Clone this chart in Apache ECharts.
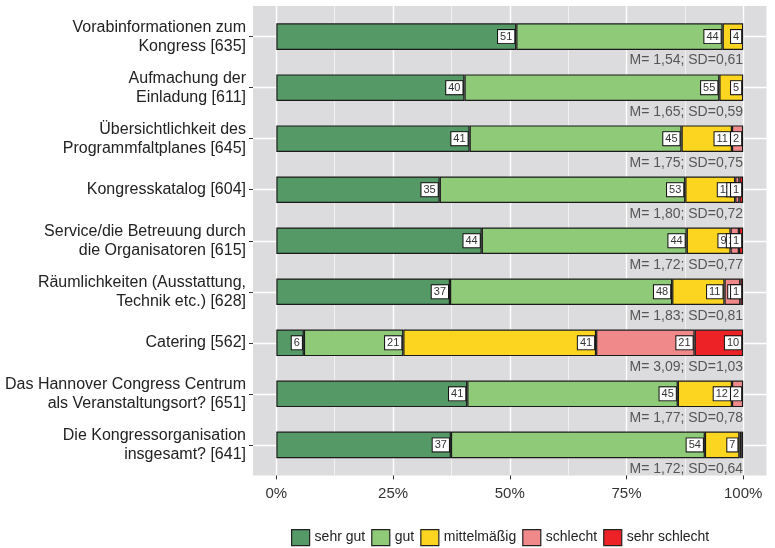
<!DOCTYPE html>
<html>
<head>
<meta charset="utf-8">
<script src="https://cdn.jsdelivr.net/npm/echarts@6/dist/echarts.min.js"></script>
<style>html,body{margin:0;padding:0;background:#fff}#c{width:775px;height:548px}</style>
</head>
<body>
<div id="c"></div>
<script>
var categories = [
  "Vorabinformationen zum\nKongress [635]",
  "Aufmachung der\nEinladung [611]",
  "Übersichtlichkeit des\nProgrammfaltplanes [645]",
  "Kongresskatalog [604]",
  "Service/die Betreuung durch\ndie Organisatoren [615]",
  "Räumlichkeiten (Ausstattung,\nTechnik etc.) [628]",
  "Catering [562]",
  "Das Hannover Congress Centrum\nals Veranstaltungsort? [651]",
  "Die Kongressorganisation\ninsgesamt? [641]"
];
var levels = ["sehr gut", "gut", "mittelmäßig", "schlecht", "sehr schlecht"];
var sehrGut     = [51.4, 40.3, 41.4, 35.0, 44.0, 37.2,  5.9, 40.9, 37.4];
var gut         = [44.2, 54.6, 45.4, 52.6, 43.9, 47.6, 21.3, 45.1, 54.4];
var mittel      = [ 4.4,  5.1, 10.8, 10.7,  9.4, 11.2, 41.3, 11.6,  7.4];
var schlecht    = [ 0,    0,    2.4,  0.9,  1.8,  3.4, 21.1,  2.4,  0.4];
var sehrSchlecht= [ 0,    0,    0,    0.8,  0.9,  0.6, 10.4,  0,    0.4];
var msd = [
  "M= 1,54; SD=0,61", "M= 1,65; SD=0,59", "M= 1,75; SD=0,75",
  "M= 1,80; SD=0,72", "M= 1,72; SD=0,77", "M= 1,83; SD=0,81",
  "M= 3,09; SD=1,03", "M= 1,77; SD=0,78", "M= 1,72; SD=0,64"
];
var xTicks = [0, 25, 50, 75, 100];
var xMinor = [12.5, 37.5, 62.5, 87.5];
var colors = ["#559966", "#8fca78", "#fcd520", "#f08a8a", "#ec2226"];

var FONT = "Liberation Sans";
var seriesValues = [sehrGut, gut, mittel, schlecht, sehrSchlecht];

var bg = {
  type: 'line', xAxisIndex: 1, yAxisIndex: 1, data: [], silent: true, z: 0,
  markLine: {
    symbol: 'none', silent: true, animation: false, z: 0,
    label: { show: false },
    data: xMinor.map(function (v) { return { xAxis: v, lineStyle: { color: '#ffffff', width: 0.6, type: 'solid' } }; })
      .concat(xTicks.map(function (v) { return { xAxis: v, lineStyle: { color: '#ffffff', width: 1.4, type: 'solid' } }; }))
      .concat(categories.map(function (c, i) { return { yAxis: i, lineStyle: { color: '#ffffff', width: 1.4, type: 'solid' } }; }))
  }
};

var bars = levels.map(function (name, k) {
  return {
    name: name, type: 'bar', stack: 'all', xAxisIndex: 0, yAxisIndex: 0,
    barCategoryGap: '48%', z: 10,
    itemStyle: { color: colors[k], borderColor: '#1a1a1a', borderWidth: 1.2 },
    label: {
      position: 'insideRight', distance: 2,
      fontFamily: FONT, fontSize: 11, color: '#333',
      backgroundColor: '#ffffff', borderColor: '#111', borderWidth: 1,
      padding: [1, 2, 1, 2],
      formatter: function (p) { return String(Math.round(p.value)); }
    },
    data: seriesValues[k].map(function (v) {
      if (!v) return '-';
      return { value: v, label: { show: v >= 0.5 } };
    })
  };
});

var msdSeries = {
  type: 'scatter', xAxisIndex: 0, yAxisIndex: 0, symbolSize: 0, silent: true, z: 12,
  data: categories.map(function (c, i) { return [100, i]; }),
  label: {
    show: true, position: 'left', distance: 0, offset: [0, 24],
    fontFamily: FONT, fontSize: 14, color: '#333',
    formatter: function (p) { return msd[p.dataIndex]; }
  }
};

var chart = echarts.init(document.getElementById('c'), null, { renderer: 'canvas' });
chart.setOption({
  animation: false,
  backgroundColor: '#ffffff',
  grid: [
    { left: 253, right: 8.5, top: 11.1, bottom: 77.6, show: false },
    { left: 253, right: 8.5, top: 6, bottom: 72.5, show: true, backgroundColor: '#dcdcde', borderWidth: 0, z: -1 }
  ],
  xAxis: [
    {
      type: 'value', gridIndex: 0, min: -5, max: 105, offset: 5, z: 20,
      axisLine: { show: false, onZero: false },
      axisTick: { show: true, inside: false, length: 4, customValues: xTicks, lineStyle: { color: '#333', width: 1 } },
      splitLine: { show: false },
      axisLabel: { fontFamily: FONT, fontSize: 15, color: '#333', margin: 11, customValues: xTicks,
        formatter: function (v) { return v + '%'; } }
    },
    {
      type: 'value', gridIndex: 1, min: -5, max: 105,
      axisLine: { show: false, onZero: false }, axisTick: { show: false }, axisLabel: { show: false }, splitLine: { show: false }
    }
  ],
  yAxis: [
    {
      type: 'category', gridIndex: 0, data: categories, inverse: true, z: 20,
      axisLine: { show: false, onZero: false },
      axisTick: { show: true, inside: false, alignWithLabel: true, length: 4, lineStyle: { color: '#333', width: 1 } },
      splitLine: { show: false },
      axisLabel: { fontFamily: FONT, fontSize: 16, lineHeight: 19, color: '#222', margin: 7, align: 'right' }
    },
    {
      type: 'value', gridIndex: 1, min: -0.6, max: 8.6, inverse: true,
      axisLine: { show: false, onZero: false }, axisTick: { show: false }, axisLabel: { show: false }, splitLine: { show: false }
    }
  ],
  legend: {
    data: levels, left: 286, top: 524, orient: 'horizontal',
    itemWidth: 18, itemHeight: 16, itemGap: 6,
    icon: 'rect',
    itemStyle: { borderColor: '#222', borderWidth: 1.2 },
    textStyle: { fontFamily: FONT, fontSize: 14, color: '#222' }
  },
  series: [bg].concat(bars).concat([msdSeries])
});
</script>
</body>
</html>
